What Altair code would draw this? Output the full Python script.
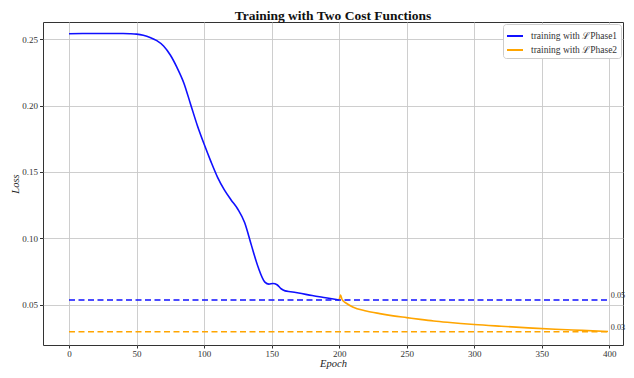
import altair as alt
import pandas as pd

# Phase 1 training loss (blue)
p1_epoch = [0, 10, 20, 30, 40, 45, 50, 55, 60, 65, 70, 75, 80, 85, 90, 95, 100, 105, 110,
            115, 120, 125, 130, 135, 140, 145, 148, 151, 154, 157, 160, 164, 170, 180, 190, 200]
p1_loss = [0.2540, 0.2541, 0.2541, 0.2541, 0.2541, 0.2540, 0.2537, 0.2528, 0.2512, 0.2488,
           0.2448, 0.2380, 0.2285, 0.2170, 0.2010, 0.1850, 0.1710, 0.1580, 0.1460, 0.1365,
           0.1290, 0.1220, 0.1120, 0.0950, 0.0785, 0.0672, 0.0657, 0.0662, 0.0652, 0.0622,
           0.0606, 0.0600, 0.0590, 0.0571, 0.0554, 0.0537]

# Phase 2 training loss (orange)
p2_epoch = [200, 201, 202, 203, 205, 210, 220, 230, 240, 250, 260, 270, 280, 290, 300,
            320, 340, 360, 380, 399]
p2_loss = [0.0537, 0.0575, 0.0545, 0.0530, 0.0515, 0.0485, 0.0455, 0.0435, 0.0418, 0.0405,
           0.0392, 0.0380, 0.0370, 0.0361, 0.0353, 0.0340, 0.0328, 0.0317, 0.0309, 0.0301]

series_names = ["training with ℒPhase1", "training with ℒPhase2"]
series_colors = ["#1010ff", "#ffa500"]

ref_values = [0.0537, 0.0298]
ref_labels = ["0.05", "0.03"]
ref_colors = ["#1010ff", "#ffa500"]

x_ticks = [0, 50, 100, 150, 200, 250, 300, 350, 400]
y_ticks = [0.05, 0.10, 0.15, 0.20, 0.25]

df = pd.concat([
    pd.DataFrame({"epoch": p1_epoch, "loss": p1_loss, "series": series_names[0]}),
    pd.DataFrame({"epoch": p2_epoch, "loss": p2_loss, "series": series_names[1]}),
])
ref_df = pd.DataFrame({"y": ref_values, "label": ref_labels, "c": ref_colors,
                       "x0": [0, 0], "x1": [400, 400]})

FONT = "Liberation Serif"

xscale = alt.Scale(domain=[-19.24, 410.1], nice=False, zero=False)
yscale = alt.Scale(domain=[0.0199, 0.2628], nice=False, zero=False)

xaxis = alt.Axis(values=x_ticks, title="Epoch", titleFontStyle="italic", titleFontWeight="normal",
                 titleFontSize=10.5, labelFontSize=9, titlePadding=0, labelPadding=1,
                 tickSize=3, format="d")
yaxis = alt.Axis(values=y_ticks, title="Loss", titleFontStyle="italic", titleFontWeight="normal",
                 titleFontSize=10.5, labelFontSize=9, titlePadding=1, labelPadding=2,
                 tickSize=3.5, format=".2f")

lines = alt.Chart(df).mark_line(strokeWidth=1.6, interpolate="monotone").encode(
    x=alt.X("epoch:Q", scale=xscale, axis=xaxis),
    y=alt.Y("loss:Q", scale=yscale, axis=yaxis),
    color=alt.Color("series:N", scale=alt.Scale(domain=series_names, range=series_colors),
                    legend=alt.Legend(title=None, orient="top-right", offset=2,
                                      symbolType="stroke", symbolSize=256, symbolStrokeWidth=2,
                                      labelFontSize=9.5, labelFont=FONT, padding=3,
                                      labelOffset=7, rowPadding=-5, fillColor="white",
                                      strokeColor="#cccccc", cornerRadius=3,
                                      labelColor="#333333")),
    detail="series:N",
)

rules = alt.Chart(ref_df).mark_rule(strokeDash=[6, 3.5], strokeWidth=1.5).encode(
    x="x0:Q", x2="x1:Q", y="y:Q",
    color=alt.Color("c:N", scale=None, legend=None),
)

texts = alt.Chart(ref_df).mark_text(align="left", baseline="middle", dx=1.5, dy=-4,
                                    font=FONT, fontSize=8.2, color="#333333").encode(
    x="x1:Q", y="y:Q", text="label:N",
)

chart = alt.layer(lines, rules, texts).properties(
    width=580, height=323,
    title=alt.TitleParams("Training with Two Cost Functions", font=FONT, fontSize=13.5,
                          fontWeight="bold", offset=0, color="#111111"),
    autosize=alt.AutoSizeParams(type="none"),
    padding={"left": 35, "top": 14, "right": 3, "bottom": 25},
).configure_view(
    stroke="#333333", strokeWidth=1,
).configure_axis(
    domain=False, grid=True, gridColor="#c8c8c8", gridWidth=0.9,
    tickColor="#333333", labelFont=FONT, titleFont=FONT,
    labelColor="#333333", titleColor="#222222",
)

chart.save("out.html", embed_options={"renderer": "svg", "actions": False})
